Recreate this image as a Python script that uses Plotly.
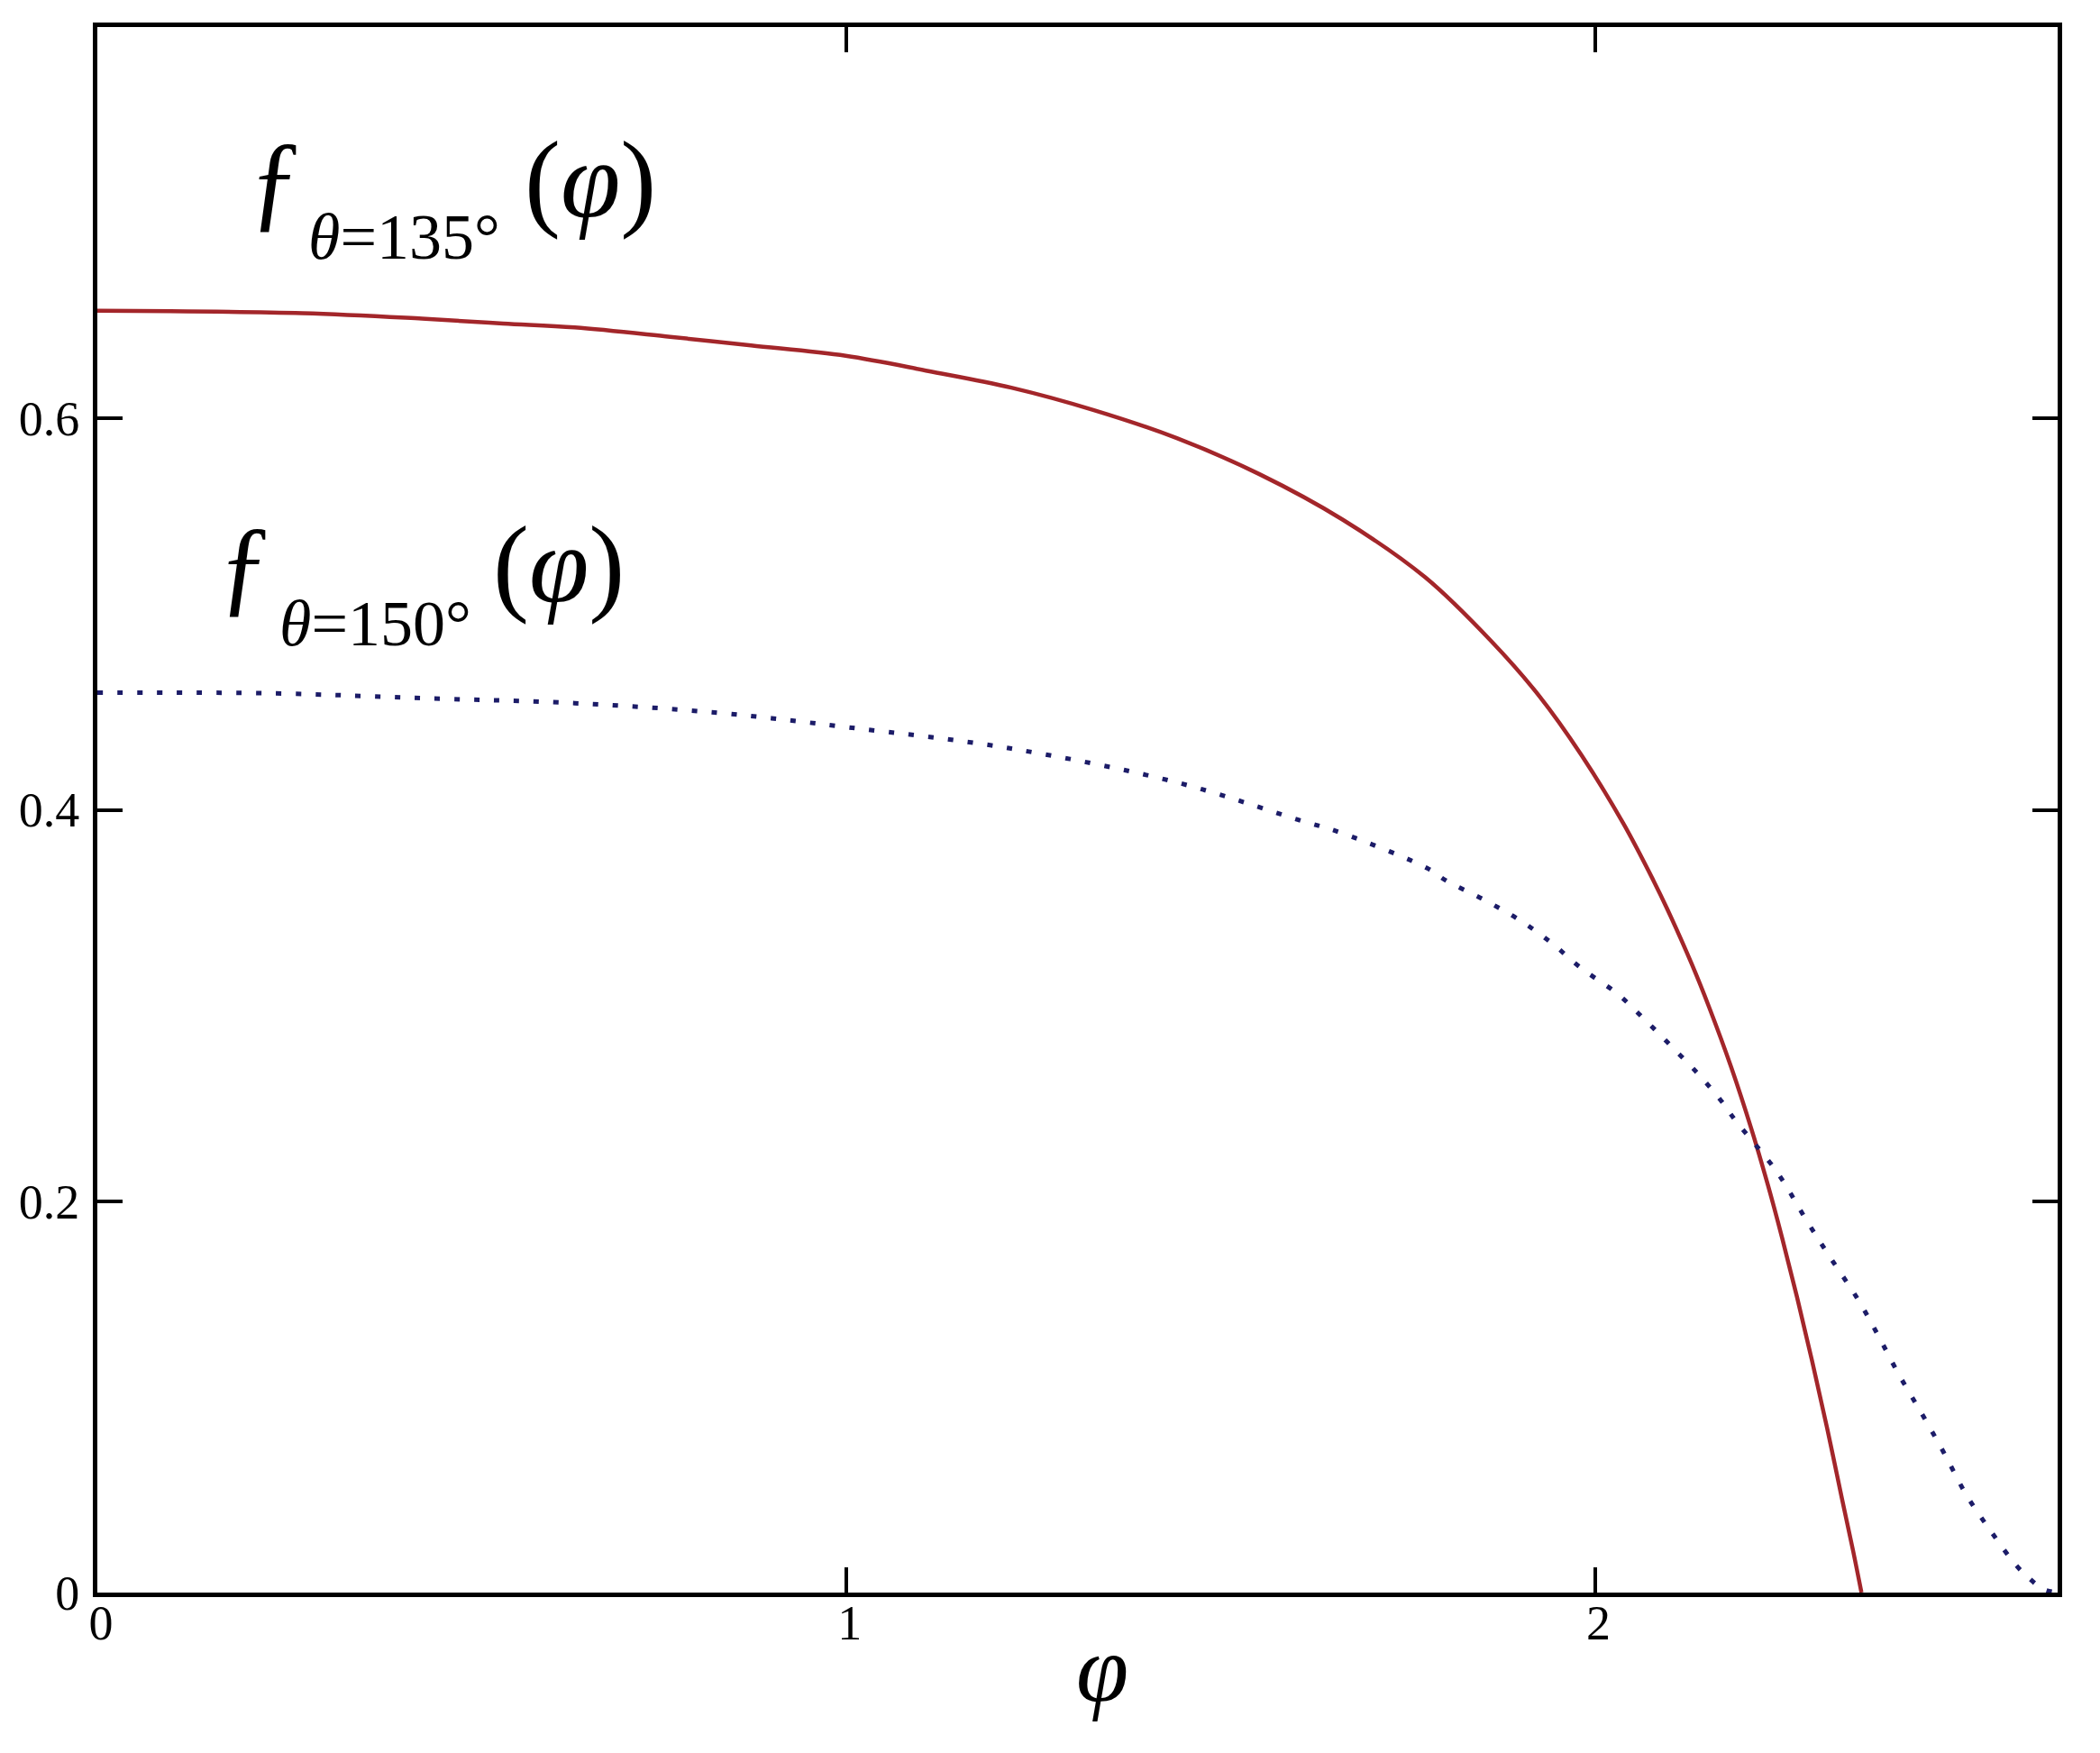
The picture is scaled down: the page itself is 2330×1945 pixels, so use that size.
import plotly.graph_objects as go

# f_{theta=135deg}(phi) -- red solid curve
phi_135 = [0, 0.274, 0.4335, 0.5418, 0.6375, 0.765, 0.873, 0.9994, 1.110, 1.2206,
           1.331, 1.4417, 1.552, 1.663, 1.7734, 1.862, 1.926, 1.982, 2.038, 2.078,
           2.097, 2.129, 2.153, 2.182, 2.209, 2.231, 2.250, 2.270, 2.290, 2.310,
           2.330, 2.345, 2.356]
f_135 = [0.655, 0.6538, 0.651, 0.6485, 0.6465, 0.6417, 0.6373, 0.632, 0.6242, 0.6157,
         0.6042, 0.5899, 0.5715, 0.5483, 0.5188, 0.486, 0.458, 0.428, 0.393, 0.364,
         0.349, 0.3215, 0.2987, 0.2685, 0.2369, 0.2083, 0.1813, 0.1509, 0.1185, 0.0843,
         0.0479, 0.021, 0.0]

# f_{theta=150deg}(phi) -- blue dotted curve
phi_150 = [0, 0.236, 0.446, 0.6375, 0.828, 0.9994, 1.2206, 1.4417, 1.603, 1.663,
           1.777, 1.801, 1.852, 1.898, 1.942, 1.982, 2.030, 2.066, 2.100, 2.138,
           2.168, 2.187, 2.243, 2.285, 2.317, 2.351, 2.378, 2.406, 2.438, 2.466,
           2.496, 2.530, 2.562, 2.5785, 2.599, 2.618]
f_150 = [0.4599, 0.4595, 0.4569, 0.4545, 0.4496, 0.4423, 0.4313, 0.414, 0.395, 0.388,
         0.370, 0.3639, 0.354, 0.344, 0.332, 0.319, 0.306, 0.293, 0.280, 0.265,
         0.2516, 0.2416, 0.215, 0.1887, 0.1697, 0.150, 0.1316, 0.1114, 0.0905, 0.0715,
         0.050, 0.0307, 0.0142, 0.0078, 0.0017, 0.0]

x_range = [0, 2.618]
y_range = [0, 0.8]
x_ticks = [0, 1, 2]
y_ticks = [0, 0.2, 0.4, 0.6]
y_ticktext = ["0", "0.2", "0.4", "0.6"]

FONT = "Liberation Serif"

fig = go.Figure()

fig.add_trace(go.Scatter(
    x=phi_135, y=f_135, mode="lines",
    line=dict(color="#a3262a", width=4.5, shape="spline", smoothing=1.0),
    showlegend=False,
))
fig.add_trace(go.Scatter(
    x=phi_150, y=f_150, mode="lines",
    line=dict(color="#1c1c68", width=5, dash="6px,16px", shape="spline", smoothing=1.0),
    showlegend=False,
))

axis_style = dict(
    showline=True, linecolor="black", linewidth=5, mirror="ticks",
    ticks="inside", ticklen=28, tickwidth=4, tickcolor="black",
    showgrid=False, zeroline=False,
    tickfont=dict(family=FONT, size=54, color="black"),
)

fig.update_xaxes(range=x_range, tickvals=x_ticks, ticklabelshift=4,
                 ticklabelstandoff=-18, **axis_style)
fig.update_yaxes(range=y_range, tickvals=y_ticks, ticktext=y_ticktext,
                 ticklabelstandoff=4, **axis_style)

# curve labels, built from pieces so the subscript sits low like the original
labels = [
    # (x, y, text, size)
    (0.2000, 0.7219, "ƒ", 120),
    (0.2793, 0.6928, "<i>θ</i>=135°", 72),
    (0.5683, 0.7219, "(<i>φ</i>)", 120),
    (0.1590, 0.5253, "ƒ", 120),
    (0.2408, 0.4949, "<i>θ</i>=150°", 72),
    (0.5262, 0.5253, "(<i>φ</i>)", 120),
]
for lx, ly, txt, size in labels:
    fig.add_annotation(x=lx, y=ly, xref="x", yref="y", text=txt, showarrow=False,
                       xanchor="left", yanchor="middle",
                       font=dict(family=FONT, size=size, color="black"))

# axis title
fig.add_annotation(x=0.5126, y=-0.0486, xref="paper", yref="paper",
                   text="<i>φ</i>", showarrow=False, xanchor="center", yanchor="middle",
                   font=dict(family=FONT, size=105, color="black"))

fig.update_layout(
    width=2330, height=1945,
    margin=dict(l=100, r=55, t=22, b=186),
    paper_bgcolor="white", plot_bgcolor="white",
)

fig.write_html("out.html")
